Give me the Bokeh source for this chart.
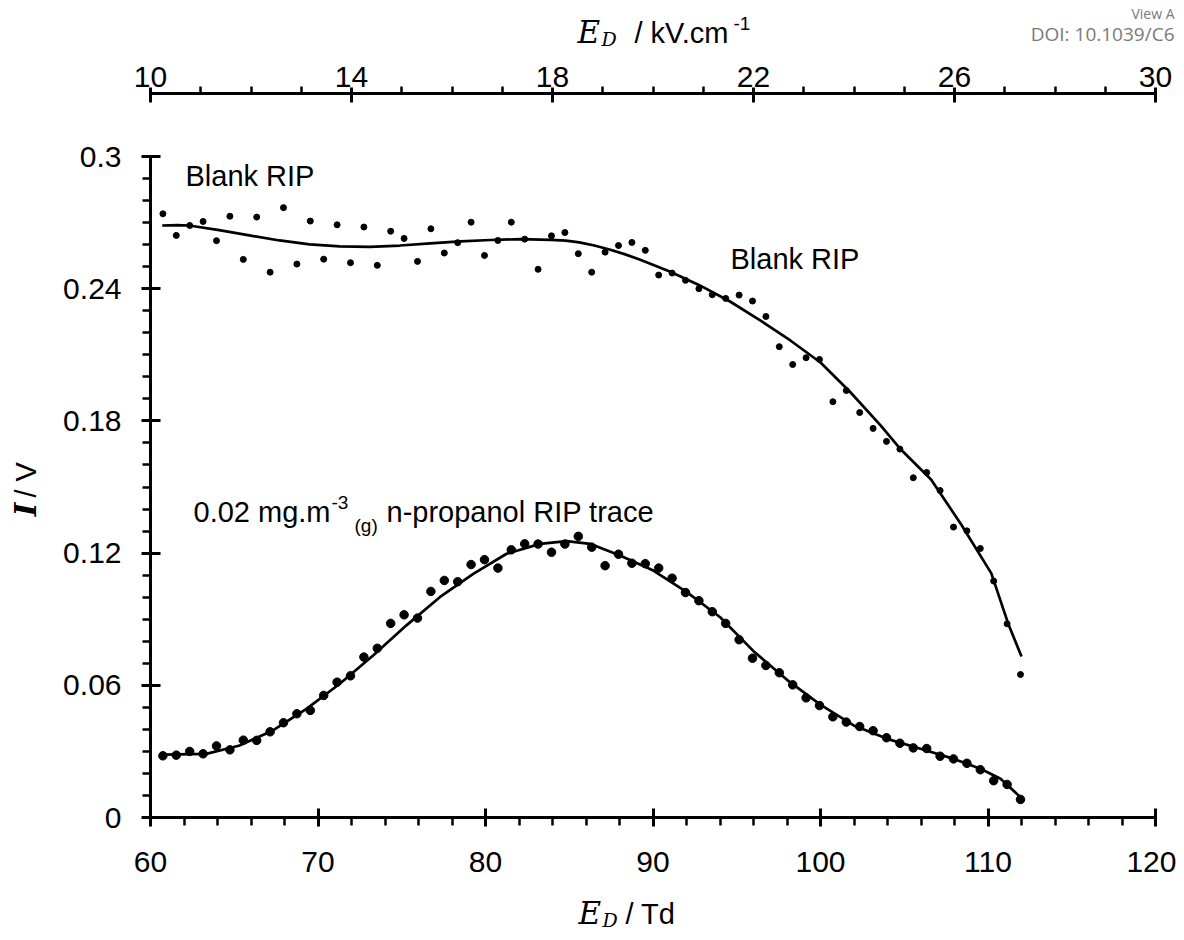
import math
from bokeh.plotting import figure
from bokeh.models import (Range1d, LinearAxis, FixedTicker, Label, CustomJSTickFormatter)
from bokeh.layouts import column, row
from bokeh.embed import file_html
from bokeh.resources import INLINE

# ---------------- data ----------------
ed_td = [60.74, 61.54, 62.34, 63.14, 63.94, 64.74, 65.54, 66.34, 67.14, 67.94,
         68.74, 69.54, 70.34, 71.14, 71.94, 72.74, 73.54, 74.34, 75.14, 75.94,
         76.74, 77.54, 78.34, 79.14, 79.94, 80.74, 81.54, 82.34, 83.14, 83.94,
         84.74, 85.54, 86.34, 87.14, 87.94, 88.74, 89.54, 90.34, 91.14, 91.94,
         92.74, 93.54, 94.34, 95.14, 95.94, 96.74, 97.54, 98.34, 99.14, 99.94,
         100.74, 101.54, 102.34, 103.14, 103.94, 104.74, 105.54, 106.34, 107.14, 107.94,
         108.74, 109.54, 110.34, 111.14, 111.94]

blank_iv = [0.2740, 0.2642, 0.2687, 0.2705, 0.2618, 0.2729, 0.2533, 0.2725, 0.2475, 0.2768,
            0.2512, 0.2707, 0.2534, 0.2690, 0.2518, 0.2680, 0.2506, 0.2661, 0.2628, 0.2524,
            0.2672, 0.2562, 0.2609, 0.2702, 0.2551, 0.2619, 0.2702, 0.2625, 0.2488, 0.2640,
            0.2655, 0.2559, 0.2475, 0.2566, 0.2596, 0.2610, 0.2574, 0.2462, 0.2471, 0.2438,
            0.2400, 0.2373, 0.2356, 0.2371, 0.2344, 0.2274, 0.2137, 0.2056, 0.2087, 0.2079,
            0.1887, 0.1938, 0.1838, 0.1766, 0.1707, 0.1672, 0.1542, 0.1566, 0.1484, 0.1318,
            0.1301, 0.1221, 0.1073, 0.0879, 0.0649]

propanol_iv = [0.0280, 0.0283, 0.0300, 0.0289, 0.0325, 0.0307, 0.0351, 0.0350, 0.0389, 0.0430,
               0.0471, 0.0486, 0.0554, 0.0614, 0.0643, 0.0728, 0.0768, 0.0881, 0.0920, 0.0905,
               0.1026, 0.1076, 0.1070, 0.1148, 0.1170, 0.1132, 0.1215, 0.1242, 0.1241, 0.1204,
               0.1241, 0.1276, 0.1227, 0.1143, 0.1195, 0.1154, 0.1152, 0.1132, 0.1086, 0.1021,
               0.0984, 0.0934, 0.0881, 0.0807, 0.0723, 0.0690, 0.0657, 0.0602, 0.0543, 0.0508,
               0.0457, 0.0433, 0.0413, 0.0394, 0.0362, 0.0337, 0.0316, 0.0313, 0.0278, 0.0266,
               0.0246, 0.0217, 0.0167, 0.0150, 0.0082]

blank_fit_td = [60.7, 61.6, 62.3, 64.1, 65.9, 67.7, 69.5, 71.3, 73.1, 74.9,
                76.7, 78.5, 80.3, 82.1, 83.9, 84.8, 85.6, 86.5, 87.4, 88.3,
                89.2, 91.0, 92.8, 94.6, 96.4, 98.2, 100.0, 101.8, 103.6, 104.8,
                106.6, 108.4, 110.2, 111.2, 112.0]
blank_fit_iv = [0.2687, 0.2689, 0.2687, 0.2666, 0.2642, 0.2619, 0.2601, 0.2592, 0.2590, 0.2596,
                0.2606, 0.2615, 0.2621, 0.2625, 0.2622, 0.2618, 0.2610, 0.2596, 0.2578, 0.2557,
                0.2533, 0.2478, 0.2415, 0.2342, 0.2256, 0.2165, 0.2065, 0.1929, 0.1779, 0.1670,
                0.1534, 0.1330, 0.1108, 0.0881, 0.0731]

prop_fit_td = [60.74, 63.33, 65.32, 67.31, 69.31, 71.30, 73.29, 75.28, 77.27, 79.27,
               81.26, 83.25, 84.85, 86.24, 88.03, 90.02, 92.02, 94.01, 96.00, 98.00,
               99.99, 101.98, 103.98, 105.97, 107.96, 109.55, 110.75, 111.94]
prop_fit_iv = [0.0285, 0.0289, 0.0327, 0.0395, 0.0493, 0.0607, 0.0735, 0.0872, 0.1000, 0.1106,
               0.1197, 0.1242, 0.1254, 0.1242, 0.1189, 0.1121, 0.1023, 0.0909, 0.0755, 0.0625,
               0.0512, 0.0418, 0.0357, 0.0312, 0.0266, 0.0221, 0.0176, 0.0092]

y_ticks = [0, 0.06, 0.12, 0.18, 0.24, 0.3]
x_ticks = [60, 70, 80, 90, 100, 110, 120]
top_ticks = [10, 14, 18, 22, 26, 30]

# ---------------- layout geometry (pixels) ----------------
W = 1176
TOP_H = 50
LEFT_W = 46
MAIN_W = W - LEFT_W
B_LEFT, B_TOP, B_BOTTOM = 104, 43, 68
FRAME_W, FRAME_H = 1005, 724
MAIN_H = B_TOP + FRAME_H + B_BOTTOM
BOT_H = 932 - TOP_H - MAIN_H
Y0 = TOP_H + MAIN_H          # page y of bottom strip top

FONT = "Liberation Sans"
SERIF = "DejaVu Serif"
TICK_SIZE = "30px"
ANN_SIZE = "29px"

p = figure(width=MAIN_W, height=MAIN_H,
           x_range=Range1d(60, 120), y_range=Range1d(0, 0.3286),
           output_backend="svg", toolbar_location=None,
           x_axis_location=None, y_axis_location=None,
           min_border_left=B_LEFT, min_border_right=MAIN_W - B_LEFT - FRAME_W,
           min_border_top=B_TOP, min_border_bottom=B_BOTTOM)
p.outline_line_color = None
p.grid.grid_line_color = None
p.extra_x_ranges = {"top": Range1d(10, 30)}


def style_axis(ax, tin, tout, mout, standoff):
    ax.axis_line_width = 3
    ax.axis_line_color = "black"
    ax.major_tick_line_width = 3
    ax.major_tick_line_color = "black"
    ax.minor_tick_line_width = 2.5
    ax.minor_tick_line_color = "black"
    ax.major_tick_in = tin
    ax.major_tick_out = tout
    ax.minor_tick_in = 0
    ax.minor_tick_out = mout
    ax.major_label_text_font = FONT
    ax.major_label_text_font_size = TICK_SIZE
    ax.major_label_text_color = "black"
    ax.major_label_standoff = standoff


y_minor = [round(k * 0.01, 2) for k in range(1, 30)]
yaxis = LinearAxis(ticker=FixedTicker(ticks=y_ticks, minor_ticks=y_minor),
                   formatter=CustomJSTickFormatter(code="return String(Math.round(tick*100)/100);"),
                   bounds=(0, 0.3))
style_axis(yaxis, 10, 9, 8, 20)
p.add_layout(yaxis, "left")

x_minor = [v for v in range(60, 121, 2) if v % 10]
xaxis = LinearAxis(ticker=FixedTicker(ticks=x_ticks, minor_ticks=x_minor))
style_axis(xaxis, 9, 9, 8, 25)
p.add_layout(xaxis, "below")

top_minor = [v for v in range(10, 31) if (v - 10) % 4]
taxis = LinearAxis(x_range_name="top",
                   ticker=FixedTicker(ticks=top_ticks, minor_ticks=top_minor))
style_axis(taxis, 9, 6, 7, 0)
p.add_layout(taxis, "above")

# ---------------- marks ----------------
p.line(blank_fit_td, blank_fit_iv, line_color="black", line_width=2.7, line_join="round")
p.line(prop_fit_td, prop_fit_iv, line_color="black", line_width=2.7, line_join="round")
p.scatter(ed_td, blank_iv, size=6, color="black")
p.scatter(ed_td, propanol_iv, size=8.5, color="black")


# ---------------- text inside the plot ----------------
def px(xp):
    return 60 + (xp - (LEFT_W + B_LEFT)) / (FRAME_W / 60.0)


def py(yp):
    return (TOP_H + B_TOP + FRAME_H - yp) / (661 / 0.3)


def lab(fig, text, x, y, size=ANN_SIZE, font=FONT, style="normal", align="left",
        angle=0.0, color="black"):
    fig.add_layout(Label(x=x, y=y, text=text, text_font=font,
                         text_font_size=size, text_font_style=style,
                         text_align=align, text_baseline="middle",
                         angle=angle, text_color=color))


lab(p, "Blank RIP", px(185), py(175))
lab(p, "Blank RIP", px(730), py(258))
lab(p, "0.02 mg.m", px(193), py(511))
lab(p, "-3", px(331), py(502), size="19px")
lab(p, "(g)", px(354), py(525), size="19px")
lab(p, "n-propanol RIP trace", px(386), py(511))


def strip(w, h, top):
    f = figure(width=w, height=h, x_range=Range1d(0, w), y_range=Range1d(top + h, top),
               output_backend="svg", toolbar_location=None,
               x_axis_location=None, y_axis_location=None, min_border=0)
    f.outline_line_color = None
    f.grid.grid_line_color = None
    return f


# top strip: upper title + watermark
top = strip(W, TOP_H, 0)
lab(top, "E", 577, 31, size="31px", font=SERIF, style="italic")
lab(top, "D", 601, 38, size="19px", font=SERIF, style="italic")
lab(top, "/ kV.cm", 634, 32)
lab(top, "-1", 733, 23, size="19px")
lab(top, "View A", W - 2, 13, size="14px", font="Open Sans", align="right", color="#7a7a7a")
lab(top, "DOI: 10.1039/C6", W - 2, 33, size="19px", font="Open Sans", align="right",
    color="#7a7a7a")

# left strip: y title (rotated)
left = strip(LEFT_W, MAIN_H, TOP_H)
lab(left, "I", 25, 522, font=SERIF, style="bold italic", align="right", angle=math.pi / 2)
lab(left, "/ V", 25, 516, align="left", angle=math.pi / 2)

# bottom strip: lower title
bot = strip(W, BOT_H, Y0)
lab(bot, "E", 578, 912, size="31px", font=SERIF, style="italic")
lab(bot, "D", 602, 919, size="19px", font=SERIF, style="italic")
lab(bot, "/ Td", 625, 913)

layout = column(top, row(left, p, spacing=0), bot, spacing=0)
open("out.html", "w").write(file_html(layout, INLINE))
